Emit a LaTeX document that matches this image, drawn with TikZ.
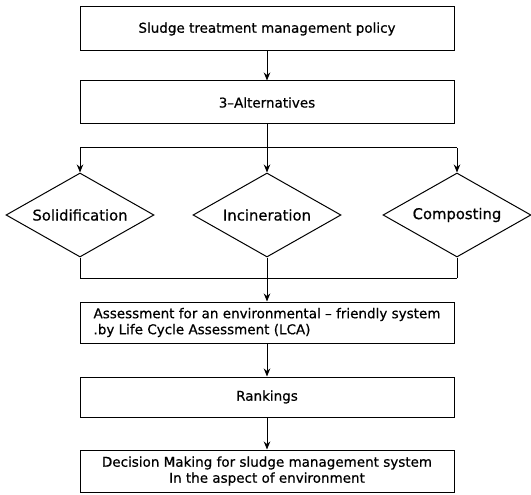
\documentclass[tikz,border=0pt]{standalone}
\usepackage{fontspec}
\setmainfont[FakeBold=0.6]{DejaVu Sans}
\usetikzlibrary{shapes.geometric,arrows.meta}

\begin{document}
\begin{tikzpicture}[x=1pt,y=-1pt,->,>={Stealth[length=8pt,width=6.5pt]},line width=1pt,
    box node/.style={rectangle,draw,minimum width=374pt,inner sep=0pt,font=\fontsize{13.5}{16}\selectfont},
    choice node/.style={diamond,draw,minimum width=148pt,minimum height=84pt,aspect=1.76,inner sep=0pt,font=\fontsize{14.8}{16}\selectfont}]
    \useasboundingbox (0,0) rectangle (531,495);

    \node[box node,minimum height=44pt] (policy) at (267,29) {Sludge treatment management policy};
    \node[box node,minimum height=43pt] (alt) at (267,102.5) {3--Alternatives};

    \node[choice node] (solid) at (80,215) {Solidification};
    \node[choice node] (incin) at (267,215) {Incineration};
    \node[choice node] (compost) at (457,215) {Composting};

    \coordinate (split l) at (80,148);
    \coordinate (split r) at (457,148);
    \coordinate (join l) at (80,278);
    \coordinate (join r) at (457,278);

    \node[box node,minimum height=41pt,align=left] (assess) at (267,322.5)
        {Assessment for an environmental -- friendly system\\.by Life Cycle Assessment (LCA)};
    \node[box node,minimum height=40pt] (rank) at (267,397) {Rankings};
    \node[box node,minimum height=42pt,align=center] (decide) at (267,471)
        {Decision Making for sludge management system\\In the aspect of environment};

    \draw[-] (split l) -- (split r);
    \draw[-] (join l) -- (join r);
    \path
        (policy) edge (alt)
        (alt) edge (incin)
        (split l) edge (solid)
        (split r) edge (compost)
        (solid) edge[-] (join l)
        (compost) edge[-] (join r)
        (incin) edge (assess)
        (assess) edge (rank)
        (rank) edge (decide)
    ;
\end{tikzpicture}
\end{document}
